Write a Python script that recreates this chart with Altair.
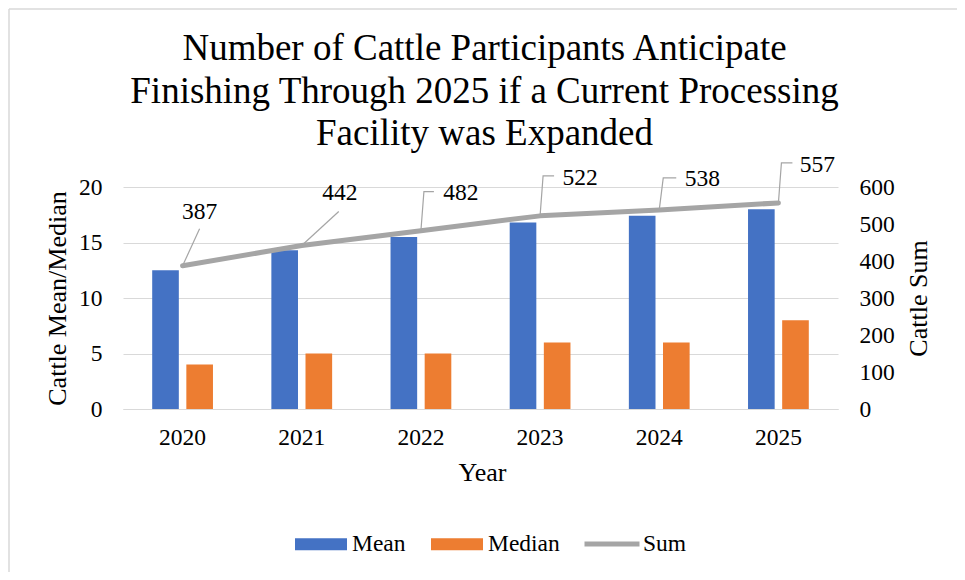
import altair as alt
import pandas as pd

# ---- data ----
years = ["2020", "2021", "2022", "2023", "2024", "2025"]
mean_vals = [12.5, 14.3, 15.5, 16.8, 17.4, 18.0]
median_vals = [4, 5, 5, 6, 6, 8]
sum_vals = [387, 442, 482, 522, 538, 557]
bar_series = ["Mean", "Median"]
bar_colors = ["#4472C4", "#ED7D31"]
line_series = ["Sum"]
line_colors = ["#A5A5A5"]
title_lines = ["Number of Cattle Participants Anticipate",
               "Finishing Through 2025 if a Current Processing",
               "Facility was Expanded"]

# ---- layout (pixels) ----
W, H = 715, 222
PAD_L, PAD_T, PAD_R, PAD_B = 115, 179, 119, 163
FONT = "Liberation Serif"
ppx = W / len(years)      # pixels per year
ppy = H / 600.0           # pixels per sum unit

# callout layout: label centre offset from point, and leader polyline offsets (px)
label_off = [(17, -54), (38, -52), (40, -38), (40, -38), (43, -31), (39, -38)]
leader_off = [
    [(0, 0), (17, -37)],
    [(0, 0), (37, -34)],
    [(0, 0), (3, -39), (13, -39)],
    [(0, 0), (3, -40), (14, -40)],
    [(0, 0), (4, -32), (17, -32)],
    [(0, 0), (3, -40), (14, -40)],
]

bar_rows = []
for y, m, md in zip(years, mean_vals, median_vals):
    bar_rows.append({"year": y, "series": "Mean", "value": m})
    bar_rows.append({"year": y, "series": "Median", "value": md})
bars_df = pd.DataFrame(bar_rows)

sum_df = pd.DataFrame({"yr": [int(y) for y in years], "sum": sum_vals, "series": "Sum"})

lab_rows = []
lead_rows = []
for i, (y, s) in enumerate(zip(years, sum_vals)):
    yr = int(y)
    lx, ly = label_off[i]
    lab_rows.append({"x": yr + lx / ppx, "y": s - ly / ppy, "text": str(s)})
    for k, (ox, oy) in enumerate(leader_off[i]):
        lead_rows.append({"id": y, "k": k, "x": yr + ox / ppx, "y": s - oy / ppy})
lab_df = pd.DataFrame(lab_rows)
lead_df = pd.DataFrame(lead_rows)

xq = alt.Scale(domain=[2019.5, 2025.5], nice=False, zero=False)
yq = alt.Scale(domain=[0, 600], nice=False)

sum_axis = alt.Axis(orient="right", title="Cattle Sum",
                    values=[0, 100, 200, 300, 400, 500, 600],
                    ticks=False, domain=False, grid=False, labelPadding=21,
                    titleX=80, titleY=111, titleBaseline="middle", titleAngle=270)

bar_legend = alt.Legend(
    orient="none", legendX=172, legendY=331, direction="horizontal", title=None,
    symbolType="M-1,-0.23H1V0.23H-1Z", symbolSize=2704, symbolStrokeWidth=0,
    symbolOpacity=1,
    labelFont=FONT, labelFontSize=23.5, labelColor="#000000", labelOffset=5,
    columnPadding=25,
)
line_legend = alt.Legend(
    orient="none", legendX=459, legendY=327, direction="horizontal", title=None,
    symbolType="stroke", symbolSize=3025, symbolStrokeWidth=5,
    labelFont=FONT, labelFontSize=23.5, labelColor="#000000", labelOffset=1,
)

bars = alt.Chart(bars_df).mark_bar().encode(
    x=alt.X("year:N", sort=years,
            scale=alt.Scale(paddingInner=0.49, paddingOuter=0.245),
            axis=alt.Axis(title="Year", labelAngle=0, ticks=False, labelPadding=16,
                          domainColor="#D9D9D9", domainWidth=1,
                          titleX=359, titleY=63, titleBaseline="middle")),
    xOffset=alt.XOffset("series:N", sort=bar_series,
                        scale=alt.Scale(paddingInner=0.22, paddingOuter=0)),
    y=alt.Y("value:Q", scale=alt.Scale(domain=[0, 20], nice=False),
            axis=alt.Axis(title="Cattle Mean/Median", values=[0, 5, 10, 15, 20],
                          ticks=False, domain=False, labelPadding=21,
                          gridColor="#D9D9D9", gridWidth=1,
                          titleX=-66, titleY=111, titleBaseline="middle", titleAngle=270)),
    color=alt.Color("series:N", scale=alt.Scale(domain=bar_series, range=bar_colors),
                    legend=bar_legend),
)

line = alt.Chart(sum_df).mark_line(strokeWidth=5, strokeCap="round",
                                   strokeJoin="round").encode(
    x=alt.X("yr:Q", scale=xq, axis=None),
    y=alt.Y("sum:Q", scale=yq, axis=sum_axis),
    stroke=alt.Stroke("series:N", scale=alt.Scale(domain=line_series, range=line_colors),
                      legend=line_legend),
)

leaders = alt.Chart(lead_df).mark_line(color="#A5A5A5", strokeWidth=1.2).encode(
    x=alt.X("x:Q", scale=xq, axis=None),
    y=alt.Y("y:Q", scale=yq, axis=sum_axis),
    detail="id:N",
    order="k:Q",
)

labels = alt.Chart(lab_df).mark_text(font=FONT, fontSize=23.5, color="#000000",
                                      align="center", baseline="middle").encode(
    x=alt.X("x:Q", scale=xq, axis=None),
    y=alt.Y("y:Q", scale=yq, axis=sum_axis),
    text="text:N",
)

border = alt.Chart(pd.DataFrame({"a": [0]})).mark_rule(color="#D9D9D9", strokeWidth=1.5).encode(
    x=alt.value(-114), y=alt.value(-178), y2=alt.value(H + PAD_B)
)
border_top = alt.Chart(pd.DataFrame({"a": [0]})).mark_rule(color="#D9D9D9", strokeWidth=1.5).encode(
    x=alt.value(-114), x2=alt.value(W + PAD_R), y=alt.value(-178)
)

sum_layer = alt.layer(line, leaders, labels)

chart = alt.layer(bars, sum_layer, border, border_top).resolve_scale(
    x="independent", y="independent"
).properties(
    width=W, height=H, background="#FFFFFF",
    title=alt.TitleParams(text=title_lines, font=FONT, fontSize=37, fontWeight="normal",
                          color="#000000", lineHeight=42.5, anchor="middle", offset=0,
                          dx=4, dy=145),
    autosize=alt.AutoSizeParams(type="none"),
    padding={"left": PAD_L, "top": PAD_T, "right": PAD_R, "bottom": PAD_B},
).configure_view(stroke=None).configure_axis(
    labelFont=FONT, labelFontSize=23.5, labelColor="#000000",
    titleFont=FONT, titleFontSize=26, titleFontWeight="normal", titleColor="#000000",
)

chart.save("out.html", embed_options={"renderer": "svg", "actions": False})
